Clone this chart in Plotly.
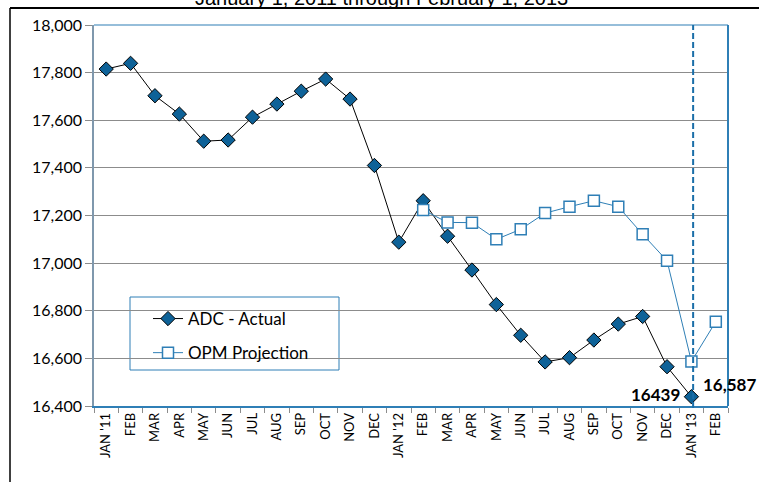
import plotly.graph_objects as go

months = ["JAN '11", "FEB", "MAR", "APR", "MAY", "JUN", "JUL", "AUG", "SEP", "OCT", "NOV", "DEC",
          "JAN '12", "FEB", "MAR", "APR", "MAY", "JUN", "JUL", "AUG", "SEP", "OCT", "NOV", "DEC",
          "JAN '13", "FEB"]
adc_actual = [17815, 17839, 17703, 17626, 17512, 17517, 17613, 17668, 17722, 17773, 17689, 17410,
              17088, 17262, 17113, 16971, 16826, 16697, 16585, 16603, 16677, 16744, 16776, 16565,
              16439, None]
opm_projection = [None] * 13 + [17223, 17171, 17170, 17100, 17142, 17210, 17237, 17262, 17237,
                                17121, 17010, 16587, 16754]
title_text = "January 1, 2011 through February 1, 2013"
marker_index = 24  # JAN '13

x = list(range(len(months)))

W, H = 759, 482
L, R, T, B = 94, 759 - 728, 25, 482 - 406
pw, ph = W - L - R, H - T - B


def px(v):
    return (v - L) / pw


def py(v):
    return (H - B - v) / ph


blue_dark = "#0e6298"
blue_line = "#2f7fb6"
font_main = "Lato"

fig = go.Figure()
fig.add_trace(go.Scatter(
    x=x, y=adc_actual, name="ADC - Actual", mode="lines+markers",
    line=dict(color="black", width=1),
    marker=dict(symbol="diamond", size=11, color=blue_dark, line=dict(color="black", width=1)),
    legendgroup="a", cliponaxis=False,
))
fig.add_trace(go.Scatter(
    x=x, y=opm_projection, name="OPM Projection", mode="lines+markers",
    line=dict(color=blue_line, width=1),
    marker=dict(symbol="square", size=11, color="white", line=dict(color=blue_line, width=1.5)),
    legendgroup="b", cliponaxis=False,
))

shapes = [
    # legend box
    dict(type="rect", xref="paper", yref="paper", x0=px(130), x1=px(339), y0=py(370), y1=py(297),
         fillcolor="white", line=dict(color=blue_line, width=1), layer="between"),
    # plot-area top & right border
    dict(type="line", xref="paper", yref="paper", x0=0, x1=1, y0=1, y1=1,
         line=dict(color=blue_line, width=1.2)),
    dict(type="line", xref="paper", yref="paper", x0=1, x1=1, y0=0, y1=1,
         line=dict(color=blue_line, width=2)),
    # outer chart border
    dict(type="line", xref="paper", yref="paper", x0=px(10), x1=px(770), y0=py(8), y1=py(8),
         line=dict(color="black", width=2)),
    dict(type="line", xref="paper", yref="paper", x0=px(10), x1=px(10), y0=py(8), y1=py(500),
         line=dict(color="black", width=1.5)),
    # dashed marker line at JAN '13
    dict(type="line", xref="x", yref="paper", x0=marker_index + 0.07, x1=marker_index + 0.07,
         y0=py(408), y1=1, line=dict(color="#1a6ea8", width=2, dash="6px,3px")),
]

annotations = [
    dict(text=title_text, xref="paper", yref="paper", x=px(381), y=py(-2), xanchor="center",
         yanchor="middle", showarrow=False, font=dict(family="Liberation Sans", size=20, color="black")),
    dict(text="<b>%d</b>" % adc_actual[marker_index], xref="x", yref="y", x=marker_index,
         y=adc_actual[marker_index], xanchor="right", yanchor="middle", xshift=-9, yshift=2,
         showarrow=False, font=dict(family=font_main, size=17, color="black")),
    dict(text="<b>{:,}</b>".format(opm_projection[marker_index]), xref="x", yref="y", x=marker_index,
         y=opm_projection[marker_index], xanchor="left", yanchor="middle", xshift=10, yshift=-23,
         showarrow=False, font=dict(family=font_main, size=17, color="black")),
]

fig.update_layout(
    width=W, height=H,
    margin=dict(l=L, r=R, t=T, b=B, pad=0),
    paper_bgcolor="white", plot_bgcolor="white",
    font=dict(family=font_main, color="black"),
    showlegend=True,
    legend=dict(x=px(148), y=py(301), xanchor="left", yanchor="top",
                bgcolor="rgba(0,0,0,0)", borderwidth=0,
                font=dict(family=font_main, size=17, color="black"),
                traceorder="grouped", tracegroupgap=9),
    shapes=shapes,
    annotations=annotations,
    xaxis=dict(
        range=[-0.5, len(months) - 0.5], tickmode="array", tickvals=x, ticktext=months,
        tickangle=-90, ticks="", showgrid=False, zeroline=False,
        showline=True, linecolor=blue_line, linewidth=1.5,
        tickfont=dict(family=font_main, size=13, color="black"),
        minor=dict(tickmode="array", tickvals=[i - 0.5 for i in range(len(months) + 1)],
                   ticks="outside", ticklen=5, tickcolor="#8c8c8c", tickwidth=1, showgrid=False),
    ),
    yaxis=dict(
        range=[16400, 18000], dtick=200, tick0=16400, tickformat=",",
        showgrid=True, gridcolor="#8c8c8c", gridwidth=1, zeroline=False,
        showline=True, linecolor="#7f98ad", linewidth=1.5,
        ticks="outside", ticklen=7, tickcolor="#8c8c8c",
        tickfont=dict(family=font_main, size=16, color="black"),
    ),
)

fig.write_html("out.html", config={"displayModeBar": False},
               post_script="document.body.style.margin='0px';")
